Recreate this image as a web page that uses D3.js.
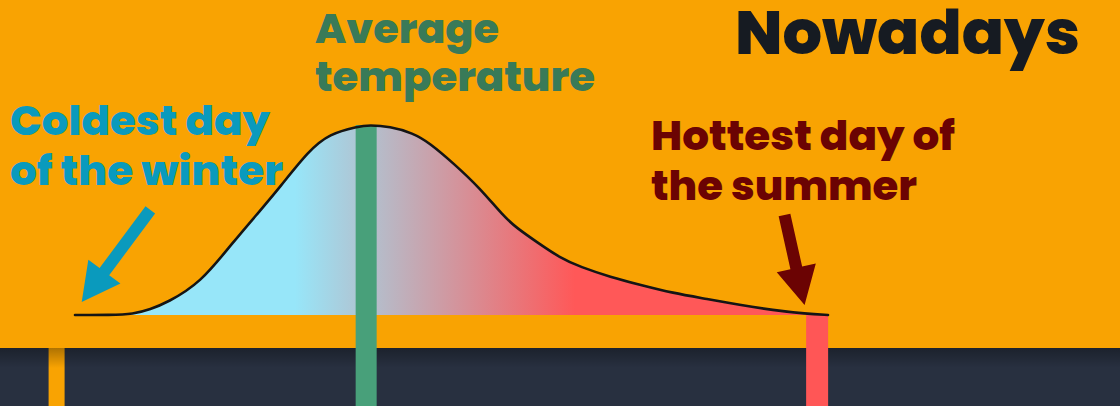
<!DOCTYPE html>
<html>
<head>
<meta charset="utf-8">
<script src="https://cdn.jsdelivr.net/npm/d3@7"></script>
<style>
  html, body { margin: 0; padding: 0; background: #f9a302; }
  svg { display: block; }
  .label { font-family: Poppins, Inter, "Open Sans", sans-serif; font-weight: 800; }
</style>
</head>
<body>
<svg id="chart" width="1120" height="406"></svg>
<script>
// temperature (deg C) and relative frequency of days
const temps = [-6, -3.9, -2.5, -1.5, -0.5, 1.5, 3.4, 5.1, 6.2, 8.0, 9.2, 10.9, 11.6, 12.8,
  14.2, 15.2, 16.6, 18.2, 19.6, 20.4, 21.6, 23.0, 24.2, 26.0, 27.8, 29.7, 31.8, 33.7, 35.7, 37.7, 39];
const density = [0, 0, 0.005, 0.03, 0.065, 0.168, 0.379, 0.553, 0.668, 0.868, 0.953, 0.992, 1.0, 0.992,
  0.958, 0.905, 0.8, 0.668, 0.52, 0.458, 0.384, 0.3, 0.253, 0.2, 0.158, 0.116, 0.084, 0.053, 0.026, 0.006, 0];

// markers on the temperature axis
const markerNames = ["oldColdest", "average", "hottest"];
const markerTemps = [-7.1, 11.4, 38.35];
const markerColors = ["#f9a302", "#48a07a", "#ff5656"];

// annotation arrows: [from temp, from density, to temp, to density]
const arrowNames = ["coldest", "hottest"];
const arrowFrom = [[-1.5, 0.553], [36.4, 0.526]];
const arrowTo = [[-5.6, 0.068], [37.6, 0.053]];
const arrowColors = ["#0a9abd", "#6b0303"];

const labelLines = [
  ["Coldest day", "of the winter"],
  ["Average", "temperature"],
  ["Hottest day of", "the summer"],
  ["Nowadays"]
];

const width = 1120, height = 406;
const baseY = 315, bandTop = 348;

const svg = d3.select("#chart");

const x = d3.scaleLinear().domain([-6, 39]).range([75, 828]);
const y = d3.scaleLinear().domain([0, 1]).range([baseY, 125]);

const pts = temps.map((t, i) => [t, density[i]]);

const defs = svg.append("defs");

// blue -> red fill under the curve
const grad = defs.append("linearGradient")
  .attr("id", "tempGrad")
  .attr("gradientUnits", "userSpaceOnUse")
  .attr("x1", 295).attr("x2", 575).attr("y1", 0).attr("y2", 0);
grad.append("stop").attr("offset", "0%").attr("stop-color", "#97e6f9");
grad.append("stop").attr("offset", "100%").attr("stop-color", "#ff5858");

const shade = defs.append("linearGradient")
  .attr("id", "shade")
  .attr("x1", 0).attr("x2", 0).attr("y1", 0).attr("y2", 1);
shade.append("stop").attr("offset", "0%").attr("stop-color", "#000").attr("stop-opacity", 0.3);
shade.append("stop").attr("offset", "100%").attr("stop-color", "#000").attr("stop-opacity", 0);

// background
svg.append("rect").attr("width", width).attr("height", height).attr("fill", "#f9a302");

// dark band at the bottom
svg.append("rect")
  .attr("x", 0).attr("y", bandTop)
  .attr("width", width).attr("height", height - bandTop)
  .attr("fill", "#283040");

svg.append("rect")
  .attr("x", x(markerTemps[0]) - 8).attr("y", bandTop)
  .attr("width", 16).attr("height", height - bandTop)
  .attr("fill", markerColors[0]);

svg.append("rect")
  .attr("x", 0).attr("y", bandTop)
  .attr("width", width).attr("height", 20)
  .attr("fill", "url(#shade)");

// area under the curve
const area = d3.area()
  .x(d => x(d[0]))
  .y0(y(0))
  .y1(d => y(d[1]))
  .curve(d3.curveBasis);

svg.append("path")
  .datum(pts)
  .attr("d", area)
  .attr("fill", "url(#tempGrad)");

// average bar, from the peak down
svg.append("rect")
  .attr("x", x(markerTemps[1]) - 10.5).attr("y", y(d3.max(density)))
  .attr("width", 21).attr("height", height - y(d3.max(density)))
  .attr("fill", markerColors[1]);

// hottest day bar
svg.append("rect")
  .attr("x", x(markerTemps[2]) - 11).attr("y", y(0))
  .attr("width", 22).attr("height", height - y(0))
  .attr("fill", markerColors[2]);

const line = d3.line()
  .x(d => x(d[0]))
  .y(d => y(d[1]))
  .curve(d3.curveBasis);

svg.append("path")
  .datum(pts)
  .attr("d", line)
  .attr("fill", "none")
  .attr("stroke", "#151515")
  .attr("stroke-width", 2.6)
  .attr("stroke-linecap", "round");

// arrows
function arrowPath(x0, y0, x1, y1, shaftW, headL, headW) {
  const dx = x1 - x0, dy = y1 - y0;
  const len = Math.sqrt(dx * dx + dy * dy);
  const ux = dx / len, uy = dy / len;
  const nx = -uy, ny = ux;
  const bx = x1 - ux * headL, by = y1 - uy * headL;
  const p = [
    [x0 + nx * shaftW / 2, y0 + ny * shaftW / 2],
    [bx + nx * shaftW / 2, by + ny * shaftW / 2],
    [bx + nx * headW / 2, by + ny * headW / 2],
    [x1, y1],
    [bx - nx * headW / 2, by - ny * headW / 2],
    [bx - nx * shaftW / 2, by - ny * shaftW / 2],
    [x0 - nx * shaftW / 2, y0 - ny * shaftW / 2]
  ];
  return "M" + p.map(q => q.join(",")).join("L") + "Z";
}

arrowNames.forEach((name, i) => {
  svg.append("path")
    .attr("class", "arrow " + name)
    .attr("d", arrowPath(x(arrowFrom[i][0]), y(arrowFrom[i][1]),
      x(arrowTo[i][0]), y(arrowTo[i][1]), 12, 38, 40))
    .attr("fill", arrowColors[i]);
});

// labels
function addLabel(lines, lx, ly, lineH, size, color, widths) {
  const t = svg.append("text")
    .attr("class", "label")
    .attr("fill", color)
    .style("font-size", size + "px");
  lines.forEach((s, i) => {
    t.append("tspan")
      .attr("x", lx).attr("y", ly + i * lineH)
      .attr("textLength", widths[i])
      .attr("lengthAdjust", "spacingAndGlyphs")
      .text(s);
  });
}

addLabel(labelLines[0], 10, 135, 50, 41, "#0a9abd", [260, 273]);
addLabel(labelLines[1], 315, 43, 48, 41, "#397a58", [184, 280]);
addLabel(labelLines[2], 651, 150, 50, 41, "#6b0303", [304, 266]);
addLabel(labelLines[3], 735, 54, 0, 62, "#161b22", [345]);
</script>
</body>
</html>
